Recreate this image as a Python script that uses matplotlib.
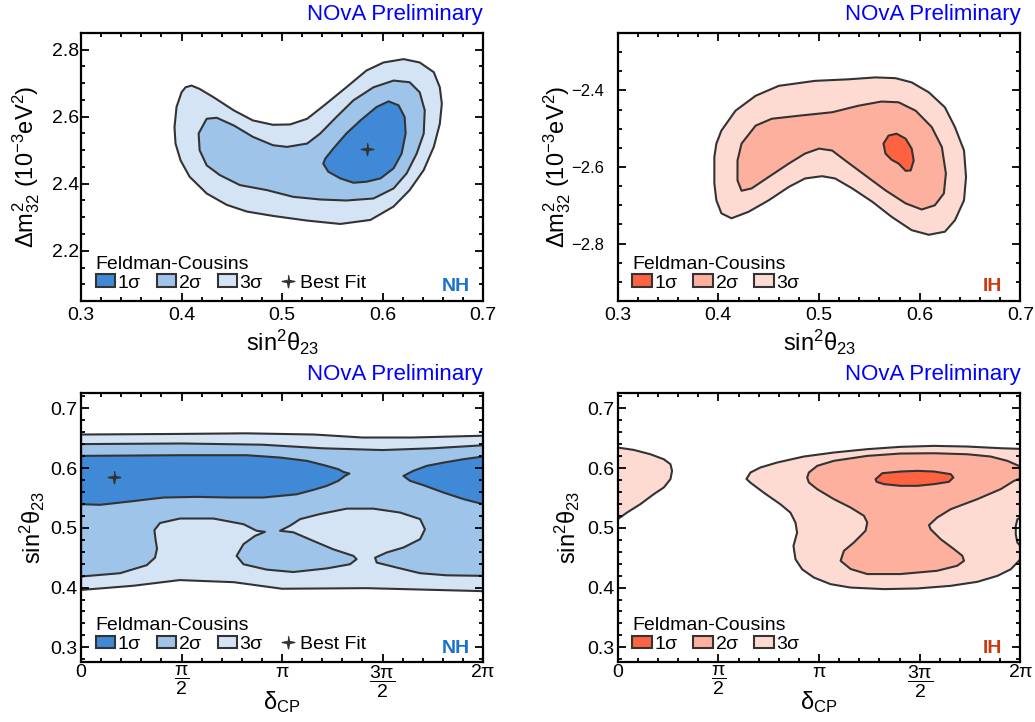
"""
NOvA Feldman-Cousins contours: NH / IH, sin^2(theta23) vs dm^2_32 and delta_CP.
"""

import matplotlib
matplotlib.use("Agg")
import matplotlib.pyplot as plt
from matplotlib.patches import Patch
from matplotlib.lines import Line2D
from matplotlib.ticker import MultipleLocator

# ---- data: contour outlines as (x, y) vertices ----

# NH, sin^2(theta23) vs dm^2_32 (1e-3 eV^2)
nh_mass_3sig = [(0.410, 2.693), (0.418, 2.683), (0.432, 2.658), (0.452, 2.619), (0.471, 2.589),
                (0.491, 2.576), (0.508, 2.577), (0.525, 2.594), (0.544, 2.639), (0.564, 2.688),
                (0.584, 2.738), (0.601, 2.762), (0.621, 2.772), (0.637, 2.762), (0.651, 2.733),
                (0.657, 2.688), (0.659, 2.639), (0.657, 2.579), (0.651, 2.510), (0.641, 2.441),
                (0.627, 2.381), (0.611, 2.332), (0.588, 2.292), (0.558, 2.280), (0.525, 2.290),
                (0.491, 2.304), (0.465, 2.317), (0.445, 2.337), (0.425, 2.371), (0.408, 2.421),
                (0.399, 2.470), (0.394, 2.520), (0.393, 2.569), (0.395, 2.629), (0.400, 2.673),
                (0.404, 2.688)]
nh_mass_2sig = [(0.425, 2.594), (0.435, 2.597), (0.452, 2.574), (0.471, 2.540), (0.491, 2.515),
                (0.505, 2.510), (0.525, 2.520), (0.538, 2.550), (0.554, 2.599), (0.571, 2.649),
                (0.591, 2.688), (0.611, 2.708), (0.627, 2.703), (0.637, 2.673), (0.642, 2.619),
                (0.641, 2.550), (0.634, 2.490), (0.624, 2.431), (0.611, 2.386), (0.591, 2.356),
                (0.564, 2.350), (0.538, 2.353), (0.511, 2.361), (0.485, 2.381), (0.458, 2.396),
                (0.438, 2.426), (0.425, 2.455), (0.418, 2.500), (0.417, 2.550)]
nh_mass_1sig = [(0.551, 2.505), (0.564, 2.550), (0.578, 2.589), (0.594, 2.629), (0.606, 2.646),
                (0.616, 2.634), (0.622, 2.599), (0.623, 2.550), (0.619, 2.490), (0.611, 2.446),
                (0.598, 2.416), (0.584, 2.406), (0.571, 2.403), (0.558, 2.416), (0.546, 2.436),
                (0.541, 2.460), (0.543, 2.475)]
nh_mass_best = (0.585, 2.505)

# IH, sin^2(theta23) vs dm^2_32 (1e-3 eV^2)
ih_mass_3sig = [(0.403, -2.505), (0.417, -2.453), (0.437, -2.414), (0.460, -2.388), (0.496, -2.375),
                (0.529, -2.371), (0.556, -2.366), (0.576, -2.368), (0.592, -2.379), (0.609, -2.405),
                (0.625, -2.444), (0.635, -2.496), (0.644, -2.557), (0.646, -2.626), (0.644, -2.687),
                (0.635, -2.739), (0.625, -2.769), (0.609, -2.777), (0.592, -2.765), (0.572, -2.730),
                (0.553, -2.691), (0.533, -2.656), (0.516, -2.630), (0.503, -2.624), (0.486, -2.630),
                (0.470, -2.652), (0.450, -2.687), (0.430, -2.717), (0.413, -2.734), (0.403, -2.721),
                (0.398, -2.687), (0.396, -2.643), (0.396, -2.574), (0.398, -2.539)]
ih_mass_2sig = [(0.423, -2.539), (0.437, -2.492), (0.453, -2.474), (0.480, -2.466), (0.513, -2.457),
                (0.539, -2.440), (0.562, -2.429), (0.579, -2.431), (0.596, -2.453), (0.612, -2.496),
                (0.622, -2.548), (0.626, -2.617), (0.624, -2.669), (0.615, -2.700), (0.602, -2.711),
                (0.586, -2.695), (0.566, -2.661), (0.546, -2.622), (0.526, -2.583), (0.513, -2.557),
                (0.500, -2.552), (0.486, -2.565), (0.470, -2.591), (0.450, -2.626), (0.433, -2.656),
                (0.423, -2.662), (0.419, -2.635), (0.419, -2.583)]
ih_mass_1sig = [(0.564, -2.539), (0.569, -2.518), (0.577, -2.513), (0.586, -2.526), (0.592, -2.552),
                (0.594, -2.583), (0.591, -2.609), (0.586, -2.610), (0.579, -2.591), (0.572, -2.581),
                (0.566, -2.565)]

# NH, delta_CP (units of pi) vs sin^2(theta23)
nh_dcp_3sig_top = [(0.0, 0.656), (0.49, 0.657), (0.82, 0.658), (1.16, 0.656), (1.40, 0.651),
                   (1.65, 0.651), (2.0, 0.654)]
nh_dcp_3sig_bottom = [(0.0, 0.396), (0.26, 0.403), (0.49, 0.4125), (0.76, 0.409), (1.0, 0.398),
                      (1.42, 0.399), (2.0, 0.394)]
nh_dcp_2sig_top = [(0.0, 0.640), (0.5, 0.641), (0.9, 0.639), (1.2, 0.633), (1.5, 0.630),
                   (1.75, 0.633), (2.0, 0.638)]
nh_dcp_2sig_bottom = [(0.0, 0.4185), (0.194, 0.424), (0.327, 0.4375), (0.368, 0.450), (0.378, 0.465),
                      (0.370, 0.482), (0.365, 0.496), (0.393, 0.508), (0.4925, 0.5155), (0.658, 0.5155),
                      (0.808, 0.506), (0.874, 0.495), (0.915, 0.4932), (0.866, 0.4865), (0.808, 0.4726),
                      (0.774, 0.453), (0.808, 0.439), (0.924, 0.430), (1.056, 0.426), (1.222, 0.432),
                      (1.338, 0.439), (1.371, 0.4475), (1.355, 0.453), (1.255, 0.464), (1.156, 0.478),
                      (1.056, 0.4925), (0.990, 0.495), (1.040, 0.5035), (1.090, 0.5145), (1.189, 0.523),
                      (1.322, 0.532), (1.454, 0.532), (1.587, 0.5255), (1.687, 0.5145), (1.711, 0.4975),
                      (1.687, 0.481), (1.604, 0.467), (1.521, 0.4587), (1.463, 0.450), (1.471, 0.4418),
                      (1.570, 0.4335), (1.687, 0.424), (1.819, 0.4205), (2.0, 0.4196)]
nh_dcp_1sig_left = [(0.0, 0.6203), (0.4925, 0.6214), (0.824, 0.6214), (0.990, 0.6175), (1.123, 0.612),
                    (1.222, 0.6036), (1.280, 0.598), (1.305, 0.5935), (1.335, 0.5907), (1.313, 0.5868),
                    (1.280, 0.5785), (1.222, 0.570), (1.156, 0.5634), (1.073, 0.556), (0.907, 0.5506),
                    (0.741, 0.5506), (0.575, 0.5517), (0.410, 0.5506), (0.244, 0.544), (0.0945, 0.5384),
                    (0.0, 0.5395)]
nh_dcp_1sig_right = [(1.604, 0.5868), (1.653, 0.5952), (1.720, 0.6036), (1.803, 0.609), (1.902, 0.6147),
                     (2.0, 0.6192), (2.0, 0.5395), (1.902, 0.548), (1.803, 0.559), (1.703, 0.5713),
                     (1.637, 0.5785)]
nh_dcp_best = (0.166, 0.585)

# IH, delta_CP (units of pi) vs sin^2(theta23)
ih_dcp_3sig_left = [(0.0, 0.6342), (0.0795, 0.6303), (0.1624, 0.623), (0.2287, 0.6147), (0.262, 0.6064),
                    (0.270, 0.5952), (0.262, 0.5813), (0.2287, 0.5673), (0.179, 0.5562), (0.1127, 0.5395),
                    (0.0464, 0.5255), (0.0, 0.5144)]
ih_dcp_3sig_main = [(0.6396, 0.5816), (0.6595, 0.5925), (0.709, 0.6009), (0.792, 0.6092), (0.9246, 0.6192),
                    (1.0737, 0.6259), (1.2394, 0.6315), (1.405, 0.6354), (1.571, 0.637), (1.7365, 0.6359),
                    (1.902, 0.6331), (2.0, 0.6320), (2.0, 0.5171), (1.985, 0.5142), (1.977, 0.503),
                    (1.977, 0.489), (1.985, 0.4752), (2.0, 0.4696), (2.0, 0.4473), (1.952, 0.4306),
                    (1.886, 0.4196), (1.786, 0.4096), (1.654, 0.4029), (1.488, 0.3985), (1.322, 0.3974),
                    (1.157, 0.400), (1.057, 0.4057), (0.974, 0.4168), (0.916, 0.4306), (0.883, 0.4473),
                    (0.873, 0.4696), (0.891, 0.4919), (0.883, 0.5086), (0.858, 0.5253), (0.8086, 0.5392),
                    (0.7257, 0.5587), (0.6595, 0.5754)]
ih_dcp_2sig = [(0.941, 0.5841), (0.9495, 0.5925), (0.991, 0.6036), (1.0737, 0.612), (1.2394, 0.6203),
               (1.405, 0.6242), (1.571, 0.6247), (1.7365, 0.623), (1.852, 0.6192), (1.935, 0.612),
               (2.0, 0.6025), (2.0, 0.5824), (1.9685, 0.5785), (1.902, 0.5646), (1.786, 0.5479),
               (1.654, 0.5311), (1.587, 0.5172), (1.546, 0.5044), (1.554, 0.4977), (1.604, 0.481),
               (1.670, 0.4643), (1.7116, 0.4532), (1.72, 0.4448), (1.6865, 0.4365), (1.587, 0.4281),
               (1.405, 0.4226), (1.2394, 0.4226), (1.157, 0.431), (1.107, 0.4448), (1.1235, 0.4615),
               (1.173, 0.4754), (1.231, 0.495), (1.2394, 0.5088), (1.223, 0.520), (1.1566, 0.5339),
               (1.0737, 0.5479), (0.991, 0.5646), (0.9495, 0.5757)]
ih_dcp_1sig = [(1.2808, 0.5813), (1.314, 0.5913), (1.405, 0.5941), (1.488, 0.5952), (1.571, 0.5941),
               (1.654, 0.5897), (1.667, 0.5841), (1.645, 0.5769), (1.571, 0.573), (1.488, 0.5702),
               (1.405, 0.5702), (1.322, 0.573), (1.2857, 0.5769)]

dcp_ticks = [0, 0.5, 1, 1.5, 2]
dcp_ticklabels = ['0', r'$\dfrac{\pi}{2}$', r'$\pi$', r'$\dfrac{3\pi}{2}$', r'$2\pi$']

# ---- style ----
NH_COLS = ['#3f89d7', '#9fc4e9', '#d4e4f5']
IH_COLS = ['#fd6340', '#fcb09d', '#fedbd2']
EDGE = '#333333'
STAR = [(0, 1), (0.16, 0.16), (1, 0), (0.16, -0.16), (0, -1), (-0.16, -0.16), (-1, 0), (-0.16, 0.16)]

plt.rcParams['font.family'] = ['Liberation Sans', 'DejaVu Sans']
plt.rcParams['mathtext.fontset'] = 'custom'
plt.rcParams['mathtext.rm'] = 'Liberation Sans'
plt.rcParams['mathtext.it'] = 'Liberation Sans'
plt.rcParams['mathtext.bf'] = 'Liberation Sans:bold'
plt.rcParams['mathtext.sf'] = 'Liberation Sans'


def region(ax, pts, color):
    xs, ys = zip(*pts)
    ax.fill(xs, ys, facecolor=color, edgecolor=EDGE, linewidth=1.5, joinstyle='round')


def band(ax, top, bottom, color):
    region(ax, list(top) + list(reversed(bottom)), color)


def frame(ax, ylabel, xlabel, tag, tagcol, cols, bestfit, ylab_x, tag_x, ytick_size=14, ytick_pad=1.5):
    for s in ax.spines.values():
        s.set_linewidth(1.6)
    ax.tick_params(which='both', direction='in', top=True, right=True, width=1.3, colors='black')
    ax.tick_params(which='major', length=6)
    ax.tick_params(which='minor', length=3)
    ax.tick_params(axis='x', labelsize=14)
    ax.tick_params(axis='y', labelsize=ytick_size, pad=ytick_pad)
    ax.set_ylabel(ylabel, fontsize=17)
    ax.set_xlabel(xlabel, fontsize=17)
    ax.yaxis.set_label_coords(ylab_x, 0.5)
    ax.xaxis.set_label_coords(0.5, -0.10)
    ax.text(1.0, 1.048, 'NOvA Preliminary', color='#0000ff', fontsize=16,
            ha='right', va='baseline', transform=ax.transAxes)
    ax.text(tag_x, 0.036, tag, color=tagcol, fontsize=14, fontweight='bold',
            ha='right', va='baseline', transform=ax.transAxes)
    handles = [Patch(facecolor=c, edgecolor=EDGE, linewidth=1.5) for c in cols]
    labels = [r'1$\sigma$', r'2$\sigma$', r'3$\sigma$']
    if bestfit:
        handles.append(Line2D([], [], linestyle='none', marker=STAR, markersize=9,
                              color=EDGE))
        labels.append('Best Fit')
    ax.legend(handles, labels, title='Feldman-Cousins', ncol=len(handles),
              loc='lower left', bbox_to_anchor=(0.036, 0.035), frameon=False,
              fontsize=14, title_fontsize=14, handlelength=1.0, handleheight=0.62,
              handletextpad=0.12, columnspacing=0.75, borderaxespad=0.0,
              labelspacing=0.1, alignment='left', borderpad=0.0)


fig = plt.figure(figsize=(10.35, 7.22), dpi=100)
ax_tl = fig.add_axes([0.0783, 0.5831, 0.3884, 0.3712])
ax_tr = fig.add_axes([0.5968, 0.5831, 0.3891, 0.3712])
ax_bl = fig.add_axes([0.0783, 0.0827, 0.3884, 0.3726])
ax_br = fig.add_axes([0.5968, 0.0827, 0.3891, 0.3726])

dm_label = r'$\Delta m^{2}_{32}$ (10$^{-3}$eV$^{2}$)'
s23_label = r'sin$^{2}\theta_{23}$'
dcp_label = r'$\delta_{\rm CP}$'

# top left: NH mass
region(ax_tl, nh_mass_3sig, NH_COLS[2])
region(ax_tl, nh_mass_2sig, NH_COLS[1])
region(ax_tl, nh_mass_1sig, NH_COLS[0])
ax_tl.plot(*nh_mass_best, linestyle='none', marker=STAR, markersize=9, color=EDGE)
ax_tl.set_xlim(0.3, 0.7)
ax_tl.set_ylim(2.05, 2.85)
ax_tl.xaxis.set_major_locator(MultipleLocator(0.1))
ax_tl.xaxis.set_minor_locator(MultipleLocator(0.02))
ax_tl.yaxis.set_major_locator(MultipleLocator(0.2))
ax_tl.yaxis.set_minor_locator(MultipleLocator(0.05))
frame(ax_tl, dm_label, s23_label, 'NH', '#1a72cc', NH_COLS, True, -0.097, 0.968)

# top right: IH mass
region(ax_tr, ih_mass_3sig, IH_COLS[2])
region(ax_tr, ih_mass_2sig, IH_COLS[1])
region(ax_tr, ih_mass_1sig, IH_COLS[0])
ax_tr.set_xlim(0.3, 0.7)
ax_tr.set_ylim(-2.95, -2.25)
ax_tr.xaxis.set_major_locator(MultipleLocator(0.1))
ax_tr.xaxis.set_minor_locator(MultipleLocator(0.02))
ax_tr.yaxis.set_major_locator(MultipleLocator(0.2))
ax_tr.yaxis.set_minor_locator(MultipleLocator(0.05))
frame(ax_tr, dm_label, s23_label, 'IH', '#cc3a10', IH_COLS, False, -0.111, 0.955,
      ytick_size=12, ytick_pad=10)

# bottom left: NH delta_CP
band(ax_bl, nh_dcp_3sig_top, nh_dcp_3sig_bottom, NH_COLS[2])
band(ax_bl, nh_dcp_2sig_top, nh_dcp_2sig_bottom, NH_COLS[1])
region(ax_bl, nh_dcp_1sig_left, NH_COLS[0])
region(ax_bl, nh_dcp_1sig_right, NH_COLS[0])
ax_bl.plot(*nh_dcp_best, linestyle='none', marker=STAR, markersize=9, color=EDGE)

# bottom right: IH delta_CP
region(ax_br, ih_dcp_3sig_left, IH_COLS[2])
region(ax_br, ih_dcp_3sig_main, IH_COLS[2])
region(ax_br, ih_dcp_2sig, IH_COLS[1])
region(ax_br, ih_dcp_1sig, IH_COLS[0])

for ax, tag, col, cols, bf, lx, tx in [(ax_bl, 'NH', '#1a72cc', NH_COLS, True, -0.085, 0.968),
                                       (ax_br, 'IH', '#cc3a10', IH_COLS, False, -0.0895, 0.955)]:
    ax.set_xlim(0, 2)
    ax.set_ylim(0.275, 0.725)
    ax.set_xticks(dcp_ticks)
    ax.set_xticklabels(dcp_ticklabels)
    ax.xaxis.set_minor_locator(MultipleLocator(0.1))
    ax.yaxis.set_major_locator(MultipleLocator(0.1))
    ax.yaxis.set_minor_locator(MultipleLocator(0.02))
    frame(ax, s23_label, dcp_label, tag, col, cols, bf, lx, tx, ytick_pad=2.5)
    ax.tick_params(axis='x', pad=1.5)

ax_tl.tick_params(axis='x', pad=4)
ax_tr.tick_params(axis='x', pad=4)

fig.savefig('out.png', dpi=100)
